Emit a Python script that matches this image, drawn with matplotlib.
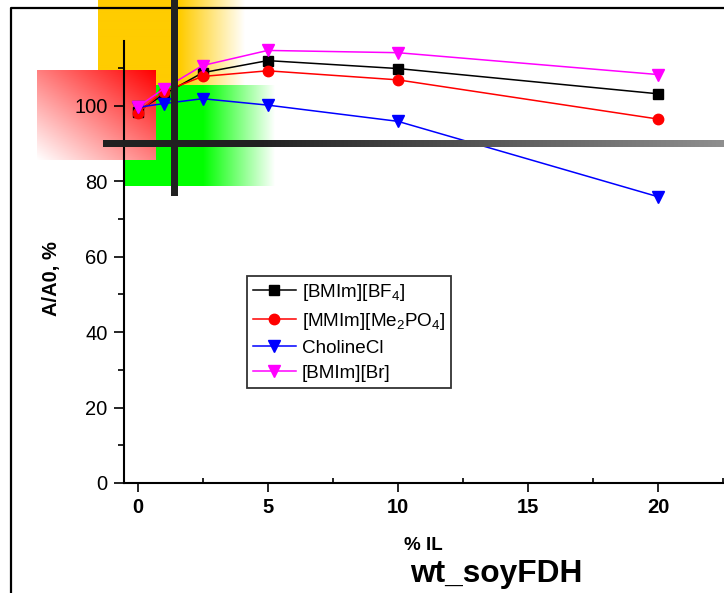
import numpy as np
import matplotlib
matplotlib.use("Agg")
import matplotlib.pyplot as plt

plt.rcParams['font.family'] = ['Liberation Sans', 'DejaVu Sans']
plt.rcParams['mathtext.fontset'] = 'custom'
plt.rcParams['mathtext.rm'] = 'Liberation Sans'
plt.rcParams['mathtext.it'] = 'Liberation Sans:italic'
plt.rcParams['mathtext.bf'] = 'Liberation Sans:bold'

# ---- data ----
il_percent = [0, 1, 2.5, 5, 10, 20]
bmim_bf4 = [98.5, 103.0, 108.8, 112.0, 109.9, 103.2]
mmim_me2po4 = [98.1, 103.8, 107.8, 109.3, 106.9, 96.5]
choline_cl = [99.6, 100.6, 101.9, 100.2, 95.9, 75.9]
bmim_br = [99.7, 104.5, 110.7, 114.7, 114.1, 108.3]
series_labels = ['[BMIm][BF$_4$]', '[MMIm][Me$_2$PO$_4$]', 'CholineCl', '[BMIm][Br]']
x_ticks = [0, 5, 10, 15, 20]
y_ticks = [0, 20, 40, 60, 80, 100]

W, H = 724, 593
fig = plt.figure(figsize=(W / 100, H / 100), dpi=100)

# ---- background decoration layer (pixel coordinates) ----
bg = fig.add_axes([0, 0, 1, 1], zorder=0)
bg.set_xlim(0, W)
bg.set_ylim(H, 0)
bg.axis('off')

# page frame
bg.plot([11, 11, W + 5], [H + 5, 7.5, 7.5], color='black', lw=1.6, solid_capstyle='butt')

def hgrad(ax, x0, x1, y0, y1, color, solid_until, fade_to, z):
    xs = np.arange(x0, x1) + 0.5
    t = np.clip(1 - (xs - solid_until) / (fade_to - solid_until), 0, 1)
    t[xs < solid_until] = 1
    c = np.array(color)
    row = (1 - t)[:, None] * np.ones(3) + t[:, None] * c
    img = np.repeat(row[None, :, :], 2, axis=0)
    ax.imshow(img, extent=(x0, x1, y1, y0), origin='upper', aspect='auto',
              interpolation='bilinear', zorder=z)

# orange block
hgrad(bg, 98, 246, 0, 85, (1.0, 0.8, 0.0), 180, 245, 1)
# green block
hgrad(bg, 125, 276, 85, 186, (0.0, 1.0, 0.0), 203, 275, 2)
# red diagonal gradient block
rx0, rx1, ry0, ry1 = 37, 156, 70, 160
u = np.linspace(0, 1, 120)[None, :]
v = np.linspace(1, 0, 90)[:, None]
t = (u + v) / 2
red_img = np.stack([np.ones_like(t), 1 - t, 1 - t], axis=-1)
bg.imshow(red_img, extent=(rx0, rx1, ry1, ry0), origin='upper', aspect='auto',
          interpolation='bilinear', zorder=3)
bg.set_xlim(0, W)
bg.set_ylim(H, 0)

# ---- main chart ----
left, bottom = 124, 483
top = 41
ax = fig.add_axes([left / W, 1 - bottom / H, (W - left) / W, (bottom - top) / H], zorder=1)
ax.patch.set_alpha(0)

styles = [
    dict(color='black', marker='s', ms=7.0),
    dict(color='red', marker='o', ms=7.5),
    dict(color='blue', marker='v', ms=9.0),
    dict(color='magenta', marker='v', ms=9.0),
]
series = [bmim_bf4, mmim_me2po4, choline_cl, bmim_br]
handles = []
for vals, st, lab in zip(series, styles, series_labels):
    h, = ax.plot(il_percent, vals, color=st['color'], marker=st['marker'], ms=st['ms'],
                 mfc=st['color'], mec=st['color'], lw=1.1, label=lab, clip_on=False)
    handles.append(h)

ax.set_xlim(-0.52, 22.53)
ax.set_ylim(0, 117.2)
for s in ['top', 'right']:
    ax.spines[s].set_visible(False)
for s in ['left', 'bottom']:
    ax.spines[s].set_linewidth(1.5)

ax.set_xticks(x_ticks)
ax.set_xticks([2.5, 7.5, 12.5, 17.5, 22.5], minor=True)
ax.set_yticks(y_ticks)
ax.set_yticks([10, 30, 50, 70, 90, 110], minor=True)
ax.tick_params(axis='x', which='major', direction='out', length=6.5, width=1.2, pad=4.5,
               labelsize=14.5)
ax.tick_params(axis='x', which='minor', direction='in', length=3.6, width=1.2)
ax.tick_params(axis='y', which='major', direction='out', length=7.2, width=1.2, pad=4.5,
               labelsize=14.5)
ax.tick_params(axis='y', which='minor', direction='out', length=4.3, width=1.2)
for lbl in ax.get_xticklabels():
    lbl.set_fontweight('bold')

leg = ax.legend(handles=handles, loc='upper left',
                bbox_to_anchor=(247 / W, 1 - 276 / H), bbox_transform=fig.transFigure,
                borderaxespad=0, fontsize=13.6, frameon=True, fancybox=False,
                edgecolor='#333333', handlelength=2.3, handletextpad=0.3,
                labelspacing=0.42, borderpad=0.3)
leg.get_frame().set_linewidth(1.3)
leg.get_frame().set_facecolor('white')
leg.get_frame().set_alpha(1)

fig.text(51 / W, 1 - 279 / H, 'A/A0, %', rotation=90, ha='center', va='center',
         fontsize=14.5, fontweight='bold')
fig.text(423 / W, 1 - 545 / H, '% IL', ha='center', va='center',
         fontsize=13.5, fontweight='bold')
fig.text(496 / W, 1 - 574 / H, 'wt_soyFDH', ha='center', va='center',
         fontsize=22.8, fontweight='bold')

# ---- foreground bars ----
fg = fig.add_axes([0, 0, 1, 1], zorder=3)
fg.patch.set_alpha(0)
fg.axis('off')
# horizontal gradient bar
hx0, hx1, hy0, hy1 = 103, W, 140, 147
xs = np.arange(hx0, hx1) + 0.5
g = np.where(xs < 260, 0.13, 0.13 + (xs - 260) / (W - 260) * (0.56 - 0.13))
bar_img = np.repeat(np.stack([g, g, g], axis=-1)[None, :, :], 2, axis=0)
fg.imshow(bar_img, extent=(hx0, hx1, hy1, hy0), origin='upper', aspect='auto',
          interpolation='bilinear')
# vertical bar
vbar = np.full((2, 2, 3), 0.13)
fg.imshow(vbar, extent=(171, 178, 196, 0), origin='upper', aspect='auto')
fg.set_xlim(0, W)
fg.set_ylim(H, 0)

fig.savefig('out.png', dpi=100)
